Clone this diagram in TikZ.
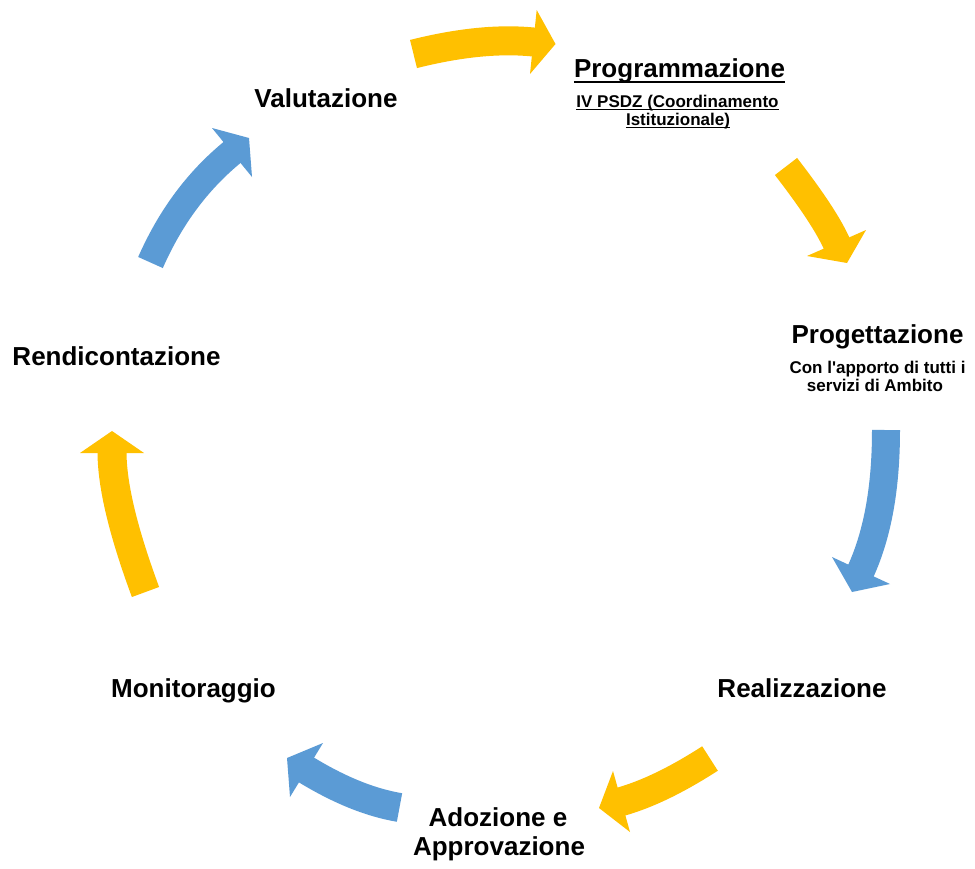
\documentclass[tikz,border=0pt]{standalone}
\usepackage{fontspec}
\setmainfont{Liberation Sans}
\usetikzlibrary{calc}
\definecolor{arrY}{HTML}{FFC000}
\definecolor{arrB}{HTML}{5B9BD5}
\newcommand\cyclearrow[3]{% #1 prefix, #2 colour, #3 body width
  \draw[draw=#2, line width=#3, line cap=butt, shorten >=-1.5pt]
    (#1t) .. controls ($(#1t)!0.6667!(#1c)$) and ($(#1h)!0.6667!(#1c)$) .. (#1h);
  \fill[#2] (#1b1) -- (#1p) -- (#1b2) -- cycle;
}
\begin{document}
\begin{tikzpicture}[x=1pt,y=-1pt,
  title/.style={font=\fontsize{26}{29}\selectfont\bfseries, inner sep=0pt, anchor=base, text=black},
  sub/.style={font=\fontsize{17}{19}\selectfont\bfseries, inner sep=0pt, anchor=base, text=black},
  uline/.style={line width=#1, draw=black}]
\fill[white] (0,0) rectangle (975,868);
\useasboundingbox (0,0) rectangle (975,868);

% arrow 1: top (yellow)
\coordinate (a1t) at (413.5,54);  \coordinate (a1c) at (482.5,36.7);
\coordinate (a1h) at (533.3,42);  \coordinate (a1b1) at (536.7,10);
\coordinate (a1b2) at (530,74);   \coordinate (a1p) at (555.5,44);
% arrow 2: upper right (yellow)
\coordinate (a2t) at (786,166.5); \coordinate (a2c) at (825,217);
\coordinate (a2h) at (836.5,243); \coordinate (a2b1) at (866,230);
\coordinate (a2b2) at (807,256);  \coordinate (a2p) at (847,263);
% arrow 3: right (blue)
\coordinate (a3t) at (886,430);   \coordinate (a3c) at (886,516);
\coordinate (a3h) at (861,570.5); \coordinate (a3b1) at (890,584);
\coordinate (a3b2) at (832,557);  \coordinate (a3p) at (852,592);
% arrow 4: lower right (yellow)
\coordinate (a4t) at (710,758.5); \coordinate (a4c) at (660,790.7);
\coordinate (a4h) at (621.5,801.5); \coordinate (a4b1) at (630,832);
\coordinate (a4b2) at (613,771);  \coordinate (a4p) at (599,808);
% arrow 5: lower left (blue)
\coordinate (a5t) at (399.5,807.5); \coordinate (a5c) at (355.5,800);
\coordinate (a5h) at (306.5,770); \coordinate (a5b1) at (290,797);
\coordinate (a5b2) at (323,743);  \coordinate (a5p) at (287,758);
% arrow 6: left (yellow)
\coordinate (a6t) at (145.5,592); \coordinate (a6c) at (112,501.5);
\coordinate (a6h) at (112,453);   \coordinate (a6b1) at (80,453);
\coordinate (a6b2) at (144,453);  \coordinate (a6p) at (112,431);
% arrow 7: upper left (blue)
\coordinate (a7t) at (150.5,262.5); \coordinate (a7c) at (180.5,194.5);
\coordinate (a7h) at (232,152.5); \coordinate (a7b1) at (212,128);
\coordinate (a7b2) at (252,177);  \coordinate (a7p) at (249,138);

\cyclearrow{a1}{arrY}{29pt}
\cyclearrow{a2}{arrY}{28pt}
\cyclearrow{a3}{arrB}{28pt}
\cyclearrow{a4}{arrY}{29pt}
\cyclearrow{a5}{arrB}{29pt}
\cyclearrow{a6}{arrY}{29pt}
\cyclearrow{a7}{arrB}{27pt}

% labels
\node[title] (val) at (326,107) {Valutazione};
\node[title] (prog) at (679.5,77) {Programmazione};
\draw[uline=2pt] ([yshift=-5pt]prog.base west) -- ([yshift=-5pt]prog.base east);
\node[sub] (progA) at (677.5,107) {IV PSDZ (Coordinamento};
\draw[uline=1.2pt] ([yshift=-2.5pt]progA.base west) -- ([yshift=-2.5pt]progA.base east);
\node[sub] (progB) at (678,125) {Istituzionale)};
\draw[uline=1.2pt] ([yshift=-2.5pt]progB.base west) -- ([yshift=-2.5pt]progB.base east);
\node[title] (proj) at (877.5,343) {Progettazione};
\node[sub] (projA) at (877.5,373) {Con l\textquotesingle apporto di tutti i};
\node[sub] (projB) at (875,391) {servizi di Ambito};
\node[title] (real) at (802,697) {Realizzazione};
\node[title] (adoA) at (498,826) {Adozione e};
\node[title] (adoB) at (499,855) {Approvazione};
\node[title] (mon) at (193.5,697) {Monitoraggio};
\node[title] (rend) at (116.5,365) {Rendicontazione};
\end{tikzpicture}
\end{document}
